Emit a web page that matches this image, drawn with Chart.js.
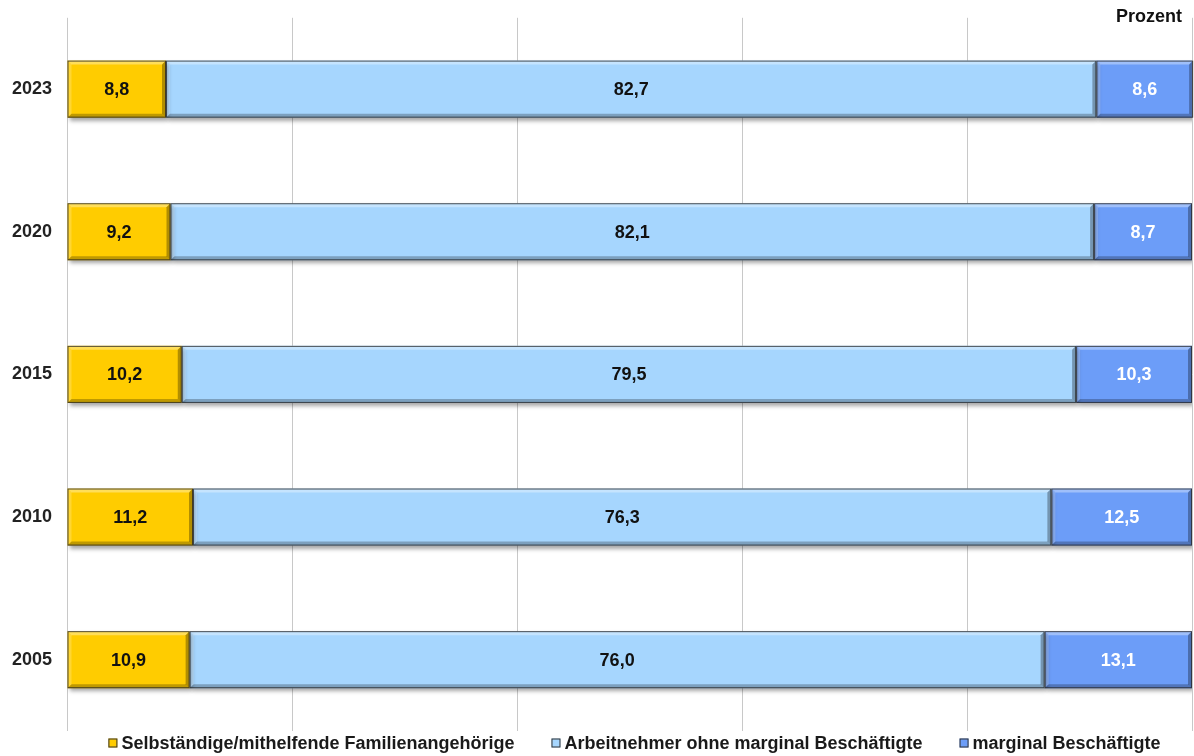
<!DOCTYPE html>
<html lang="de">
<head>
<meta charset="UTF-8">
<title>Erwerbstätige nach Stellung im Beruf</title>
<script src="https://cdn.jsdelivr.net/npm/chart.js"></script>
<style>
  html, body { margin: 0; padding: 0; background: #fff; }
  #wrap { width: 1194px; height: 756px; }
</style>
</head>
<body>
<div id="wrap"><canvas id="chart" width="1194" height="756"></canvas></div>
<script>
// Daten
const years = ['2023', '2020', '2015', '2010', '2005'];
const selbstaendige = [8.8, 9.2, 10.2, 11.2, 10.9];
const arbeitnehmer = [82.7, 82.1, 79.5, 76.3, 76.0];
const marginal = [8.6, 8.7, 10.3, 12.5, 13.1];
const seriesNames = [
    'Selbständige/mithelfende Familienangehörige',
    'Arbeitnehmer ohne marginal Beschäftigte',
    'marginal Beschäftigte'
];
const xTicks = [0, 20, 40, 60, 80, 100];

const FONT = '"Liberation Sans", Arial, sans-serif';

// Schatten unter den Balken
const shadowPlugin = {
    id: 'shadow',
    beforeDatasetDraw(chart) {
        const ctx = chart.ctx;
        ctx.save();
        ctx.shadowColor = 'rgba(0,0,0,0.35)';
        ctx.shadowBlur = 4;
        ctx.shadowOffsetX = 2;
        ctx.shadowOffsetY = 3;
    },
    afterDatasetDraw(chart) {
        chart.ctx.restore();
    }
};

// Bevel-Kanten, Werte, "Prozent", Legende
const decoPlugin = {
    id: 'deco',
    afterDatasetsDraw(chart) {
        const ctx = chart.ctx;
        chart.data.datasets.forEach((ds, i) => {
            const meta = chart.getDatasetMeta(i);
            meta.data.forEach((bar, j) => {
                const left = Math.min(bar.x, bar.base);
                const right = Math.max(bar.x, bar.base);
                const top = bar.y - bar.height / 2;
                const bottom = bar.y + bar.height / 2;
                const b = 4;
                ctx.save();
                // oben hell
                ctx.fillStyle = 'rgba(255,255,255,0.35)';
                ctx.beginPath();
                ctx.moveTo(left, top); ctx.lineTo(right, top);
                ctx.lineTo(right - b, top + b); ctx.lineTo(left + b, top + b);
                ctx.closePath(); ctx.fill();
                // links hell
                ctx.fillStyle = 'rgba(255,255,255,0.2)';
                ctx.beginPath();
                ctx.moveTo(left, top); ctx.lineTo(left + b, top + b);
                ctx.lineTo(left + b, bottom - b); ctx.lineTo(left, bottom);
                ctx.closePath(); ctx.fill();
                // unten dunkel
                ctx.fillStyle = 'rgba(0,0,0,0.25)';
                ctx.beginPath();
                ctx.moveTo(left, bottom); ctx.lineTo(right, bottom);
                ctx.lineTo(right - b, bottom - b); ctx.lineTo(left + b, bottom - b);
                ctx.closePath(); ctx.fill();
                // rechts dunkel
                ctx.fillStyle = 'rgba(0,0,0,0.3)';
                ctx.beginPath();
                ctx.moveTo(right, top); ctx.lineTo(right, bottom);
                ctx.lineTo(right - b, bottom - b); ctx.lineTo(right - b, top + b);
                ctx.closePath(); ctx.fill();
                ctx.strokeStyle = 'rgba(40,40,40,0.8)';
                ctx.lineWidth = 1;
                ctx.strokeRect(left + 0.5, top + 0.5, right - left - 1, bottom - top - 1);

                // Wert
                const v = ds.data[j];
                ctx.fillStyle = i === 2 ? '#ffffff' : '#111111';
                ctx.font = 'bold 18px ' + FONT;
                ctx.textAlign = 'center';
                ctx.textBaseline = 'middle';
                ctx.fillText(v.toFixed(1).replace('.', ','), (left + right) / 2, bar.y + 1);
                ctx.restore();
            });
        });

        const area = chart.chartArea;
        ctx.save();
        ctx.fillStyle = '#111';
        ctx.font = 'bold 18px ' + FONT;
        ctx.textAlign = 'right';
        ctx.textBaseline = 'middle';
        ctx.fillText('Prozent', area.right - 10, 17);

        // Legende
        ctx.font = 'bold 18px ' + FONT;
        const box = 9, gapBox = 4, gapItem = 37;
        const widths = seriesNames.map(n => box + gapBox + ctx.measureText(n).width);
        const total = widths.reduce((a, w) => a + w, 0) + gapItem * (widths.length - 1);
        let x = (area.left + area.right) / 2 - total / 2 + 5;
        const y = 743;
        ctx.textAlign = 'left';
        chart.data.datasets.forEach((ds, i) => {
            ctx.fillStyle = ds.backgroundColor;
            ctx.fillRect(x, y - box / 2, box, box);
            ctx.strokeStyle = '#333';
            ctx.lineWidth = 1;
            ctx.strokeRect(x + 0.5, y - box / 2 + 0.5, box - 1, box - 1);
            ctx.fillStyle = '#1a1a1a';
            ctx.fillText(seriesNames[i], x + box + gapBox, y + 1);
            x += widths[i] + gapItem;
        });
        ctx.restore();
    }
};

new Chart(document.getElementById('chart'), {
    type: 'bar',
    data: {
        labels: years,
        datasets: [
            { label: seriesNames[0], data: selbstaendige, backgroundColor: '#FFCC00' },
            { label: seriesNames[1], data: arbeitnehmer, backgroundColor: '#A6D6FE' },
            { label: seriesNames[2], data: marginal, backgroundColor: '#6C9DF8' }
        ]
    },
    options: {
        indexAxis: 'y',
        responsive: false,
        animation: false,
        layout: { padding: { top: 11, right: 2, bottom: 25, left: 0 } },
        datasets: {
            bar: { categoryPercentage: 1, barPercentage: 0.4, borderWidth: 0 }
        },
        scales: {
            x: {
                stacked: true,
                min: 0,
                max: 100,
                afterBuildTicks: scale => { scale.ticks = xTicks.map(v => ({ value: v })); },
                ticks: { display: false },
                grid: { color: '#c8c8c8', lineWidth: 1, drawTicks: false },
                border: { display: false }
            },
            y: {
                stacked: true,
                afterFit: scale => { scale.width = 67; },
                grid: { display: false },
                border: { display: false },
                ticks: {
                    color: '#222',
                    padding: 7,
                    font: { family: FONT, size: 18, weight: 'bold' }
                }
            }
        },
        plugins: {
            legend: { display: false },
            tooltip: { enabled: false }
        }
    },
    plugins: [shadowPlugin, decoPlugin]
});
</script>
</body>
</html>
